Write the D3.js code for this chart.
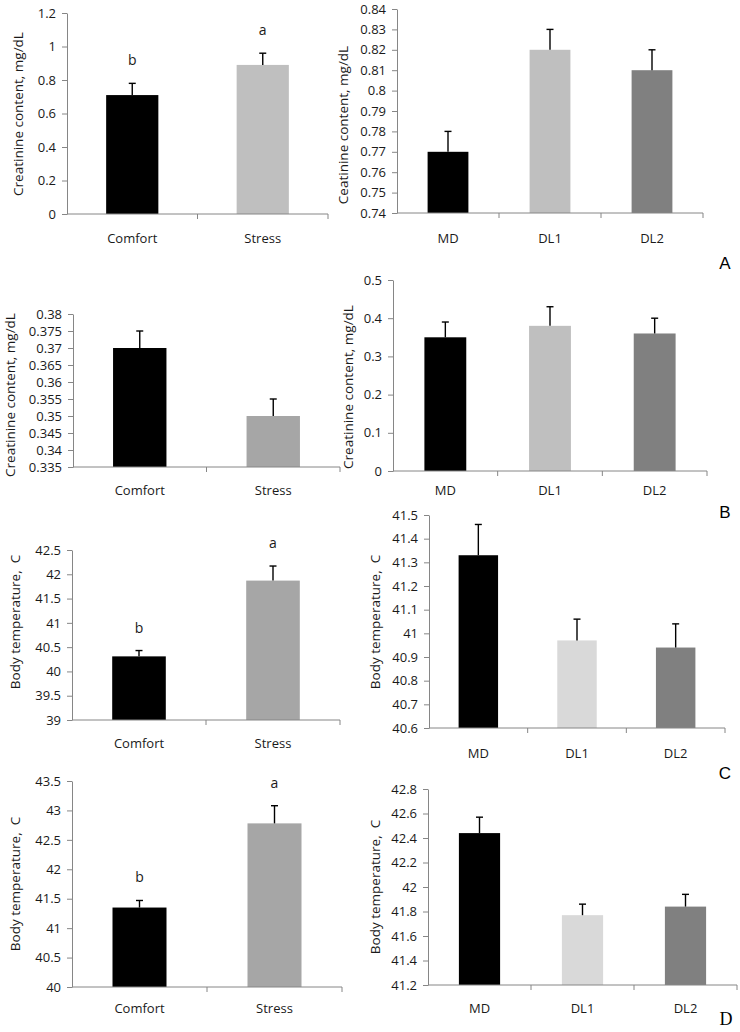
<!DOCTYPE html>
<html>
<head>
<meta charset="utf-8">
<script src="https://cdn.jsdelivr.net/npm/d3@7"></script>
<style>
  html, body { margin: 0; padding: 0; background: #fff; }
  svg { display: block; }
  text { font-family: "Open Sans", sans-serif; fill: #1a1a1a; }
</style>
</head>
<body>
<svg id="chart" width="740" height="1032"></svg>
<script>
// ---------------- DATA ----------------
const envGroups = ["Comfort", "Stress"];
const dietGroups = ["MD", "DL1", "DL2"];

// A: creatinine
const creatEnvMean = [0.71, 0.89];
const creatEnvErr  = [0.07, 0.07];
const creatEnvLetters = ["b", "a"];
const creatEnvTicks = [0, 0.2, 0.4, 0.6, 0.8, 1, 1.2];

const creatDietMean = [0.77, 0.82, 0.81];
const creatDietErr  = [0.01, 0.01, 0.01];
const creatDietTicks = [0.74, 0.75, 0.76, 0.77, 0.78, 0.79, 0.8, 0.81, 0.82, 0.83, 0.84];

// B: creatinine
const creatBEnvMean = [0.37, 0.35];
const creatBEnvErr  = [0.005, 0.005];
const creatBEnvTicks = [0.335, 0.34, 0.345, 0.35, 0.355, 0.36, 0.365, 0.37, 0.375, 0.38];

const creatBDietMean = [0.35, 0.38, 0.36];
const creatBDietErr  = [0.04, 0.05, 0.04];
const creatBDietTicks = [0, 0.1, 0.2, 0.3, 0.4, 0.5];

// C: body temperature
const tempCEnvMean = [40.31, 41.87];
const tempCEnvErr  = [0.12, 0.30];
const tempCEnvLetters = ["b", "a"];
const tempCEnvTicks = [39, 39.5, 40, 40.5, 41, 41.5, 42, 42.5];

const tempCDietMean = [41.33, 40.97, 40.94];
const tempCDietErr  = [0.13, 0.09, 0.10];
const tempCDietTicks = [40.6, 40.7, 40.8, 40.9, 41, 41.1, 41.2, 41.3, 41.4, 41.5];

// D: body temperature
const tempDEnvMean = [41.35, 42.78];
const tempDEnvErr  = [0.12, 0.30];
const tempDEnvLetters = ["b", "a"];
const tempDEnvTicks = [40, 40.5, 41, 41.5, 42, 42.5, 43, 43.5];

const tempDDietMean = [42.44, 41.77, 41.84];
const tempDDietErr  = [0.13, 0.09, 0.10];
const tempDDietTicks = [41.2, 41.4, 41.6, 41.8, 42, 42.2, 42.4, 42.6, 42.8];

const creatTitle = "Creatinine content, mg/dL";
const creatTitleTypo = "Ceatinine content, mg/dL";
const tempTitle = "Body temperature,  C";

const panelLetters = ["A", "B", "C", "D"];

// ---------------- COLOURS ----------------
const envColorsA = ["#000000", "#bfbfbf"];
const envColorsB = ["#000000", "#a6a6a6"];
const dietColorsAB = ["#000000", "#bfbfbf", "#808080"];
const dietColorsCD = ["#000000", "#d9d9d9", "#808080"];

// ---------------- PANELS ----------------
const panels = [
  { cats: envGroups, mean: creatEnvMean, err: creatEnvErr, letters: creatEnvLetters, ticks: creatEnvTicks,
    colors: envColorsA, title: creatTitle,
    layout: { x0: 67, x1: 328, yTop: 13, yBot: 214, titleX: 18, titleY: 114, catY: 238 } },
  { cats: dietGroups, mean: creatDietMean, err: creatDietErr, ticks: creatDietTicks,
    colors: dietColorsAB, title: creatTitleTypo,
    layout: { x0: 397, x1: 703, yTop: 9, yBot: 213, titleX: 343, titleY: 125, catY: 238 } },
  { cats: envGroups, mean: creatBEnvMean, err: creatBEnvErr, ticks: creatBEnvTicks,
    colors: envColorsB, title: creatTitle,
    layout: { x0: 73, x1: 340, yTop: 314, yBot: 467, titleX: 10, titleY: 395, catY: 490 } },
  { cats: dietGroups, mean: creatBDietMean, err: creatBDietErr, ticks: creatBDietTicks,
    colors: dietColorsAB, title: creatTitle,
    layout: { x0: 393, x1: 707, yTop: 280, yBot: 471, titleX: 348, titleY: 387, catY: 490 } },
  { cats: envGroups, mean: tempCEnvMean, err: tempCEnvErr, letters: tempCEnvLetters, ticks: tempCEnvTicks,
    colors: envColorsB, title: tempTitle,
    layout: { x0: 72, x1: 340, yTop: 550, yBot: 720, titleX: 15, titleY: 622, catY: 743 } },
  { cats: dietGroups, mean: tempCDietMean, err: tempCDietErr, ticks: tempCDietTicks,
    colors: dietColorsCD, title: tempTitle,
    layout: { x0: 429, x1: 725, yTop: 515, yBot: 728, titleX: 375, titleY: 622, catY: 753 } },
  { cats: envGroups, mean: tempDEnvMean, err: tempDEnvErr, letters: tempDEnvLetters, ticks: tempDEnvTicks,
    colors: envColorsB, title: tempTitle,
    layout: { x0: 72, x1: 342, yTop: 781, yBot: 987, titleX: 15, titleY: 884, catY: 1008 } },
  { cats: dietGroups, mean: tempDDietMean, err: tempDDietErr, ticks: tempDDietTicks,
    colors: dietColorsCD, title: tempTitle,
    layout: { x0: 428, x1: 737, yTop: 789, yBot: 985, titleX: 375, titleY: 887, catY: 1008 } }
];

const letterPos = [
  { x: 725, y: 263, font: "Liberation Sans", size: 17 },
  { x: 725, y: 512, font: "Liberation Sans", size: 17 },
  { x: 725, y: 773, font: "Liberation Sans", size: 17 },
  { x: 726, y: 1019, font: "Liberation Serif", size: 18 }
];

const svg = d3.select("#chart");
const axisColor = "#868686";
const fmt = v => String(+v.toFixed(4));

panels.forEach(p => {
  const L = p.layout;
  const g = svg.append("g");
  const data = p.cats.map((c, i) => ({ cat: c, mean: p.mean[i], err: p.err[i], color: p.colors[i],
    letter: p.letters ? p.letters[i] : null }));

  const x = d3.scaleBand().domain(p.cats).range([L.x0, L.x1]).paddingInner(0).paddingOuter(0);
  const y = d3.scaleLinear().domain([p.ticks[0], p.ticks[p.ticks.length - 1]]).range([L.yBot, L.yTop]);
  const bw = x.bandwidth() * 0.4;

  // bars
  g.selectAll("rect.bar").data(data).enter().append("rect")
    .attr("class", "bar")
    .attr("x", d => x(d.cat) + (x.bandwidth() - bw) / 2)
    .attr("width", bw)
    .attr("y", d => y(d.mean))
    .attr("height", d => y(p.ticks[0]) - y(d.mean))
    .attr("fill", d => d.color);

  // error bars (upper)
  const eb = g.selectAll("g.err").data(data).enter().append("g").attr("class", "err");
  eb.append("line")
    .attr("x1", d => x(d.cat) + x.bandwidth() / 2)
    .attr("x2", d => x(d.cat) + x.bandwidth() / 2)
    .attr("y1", d => y(d.mean))
    .attr("y2", d => y(d.mean + d.err))
    .attr("stroke", "#000").attr("stroke-width", 1.4);
  eb.append("line")
    .attr("x1", d => x(d.cat) + x.bandwidth() / 2 - 3.5)
    .attr("x2", d => x(d.cat) + x.bandwidth() / 2 + 3.5)
    .attr("y1", d => y(d.mean + d.err))
    .attr("y2", d => y(d.mean + d.err))
    .attr("stroke", "#000").attr("stroke-width", 1.4);

  // significance letters
  if (p.letters) {
    g.selectAll("text.sig").data(data).enter().append("text")
      .attr("class", "sig")
      .attr("x", d => x(d.cat) + x.bandwidth() / 2)
      .attr("y", d => y(d.mean + d.err) - 18)
      .attr("text-anchor", "middle")
      .attr("font-size", 14)
      .text(d => d.letter);
  }

  // y axis
  const ya = g.append("g").attr("transform", `translate(${L.x0},0)`)
    .call(d3.axisLeft(y).tickValues(p.ticks).tickFormat(fmt).tickSize(5).tickSizeOuter(0).tickPadding(6));
  ya.select(".domain").attr("stroke", axisColor);
  ya.selectAll(".tick line").attr("stroke", axisColor);
  ya.selectAll(".tick text").attr("font-size", 13).attr("font-family", "Open Sans").attr("fill", "#1a1a1a");

  // x axis
  const xa = g.append("g");
  xa.append("line").attr("x1", L.x0).attr("x2", L.x1).attr("y1", L.yBot).attr("y2", L.yBot)
    .attr("stroke", axisColor);
  const bounds = p.cats.slice(1).map(c => x(c)).concat([L.x1]);
  xa.selectAll("line.xt").data(bounds).enter().append("line")
    .attr("class", "xt")
    .attr("x1", d => d).attr("x2", d => d)
    .attr("y1", L.yBot).attr("y2", L.yBot + 5)
    .attr("stroke", axisColor);
  xa.selectAll("text.cat").data(p.cats).enter().append("text")
    .attr("class", "cat")
    .attr("x", d => x(d) + x.bandwidth() / 2)
    .attr("y", L.catY)
    .attr("dy", "0.35em")
    .attr("text-anchor", "middle")
    .attr("font-size", 13)
    .text(d => d);

  // y title
  g.append("text")
    .attr("transform", `translate(${L.titleX},${L.titleY}) rotate(-90)`)
    .attr("dy", "0.35em")
    .attr("text-anchor", "middle")
    .attr("font-size", 13.5)
    .style("white-space", "pre")
    .attr("xml:space", "preserve")
    .text(p.title);
});

// panel letters
svg.selectAll("text.plabel").data(panelLetters).enter().append("text")
  .attr("class", "plabel")
  .attr("x", (d, i) => letterPos[i].x)
  .attr("y", (d, i) => letterPos[i].y)
  .attr("dy", "0.35em")
  .attr("text-anchor", "middle")
  .style("font-family", (d, i) => letterPos[i].font)
  .attr("font-size", (d, i) => letterPos[i].size)
  .style("fill", "#000")
  .text(d => d);
</script>
</body>
</html>
